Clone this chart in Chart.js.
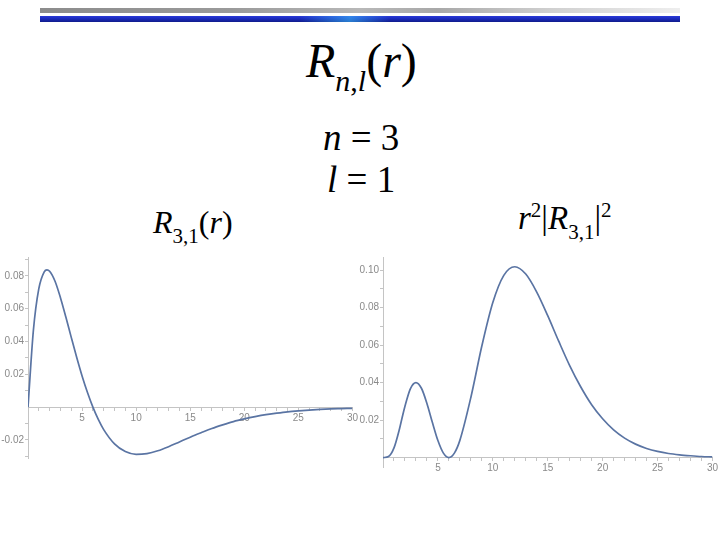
<!DOCTYPE html>
<html>
<head>
<meta charset="utf-8">
<script src="https://cdn.jsdelivr.net/npm/chart.js@4"></script>
<style>
  body { margin: 0; background: #fff; }
  #page { position: relative; width: 720px; height: 540px; overflow: hidden; background: #fff; }
  .bar-gray { position: absolute; left: 40px; top: 8px; width: 640px; height: 5px;
    background: linear-gradient(to right, #8c8c8c 0%, #9a9a9a 30%, #b8b8b8 50%, #a8a8a8 62%, #d0d0d0 80%, #eeeeee 100%); }
  .bar-blue { position: absolute; left: 40px; top: 16px; width: 640px; height: 6px;
    background: linear-gradient(to bottom, #2a3ad8 0%, #1c2cc0 40%, #101c8c 100%); }
  .bar-glint { position: absolute; left: 300px; top: 16px; width: 90px; height: 6px;
    background: linear-gradient(to right, rgba(60,200,255,0) 0%, rgba(60,200,255,0.55) 55%, rgba(60,200,255,0) 100%); }
  .math { position: absolute; font-family: "Liberation Serif", "DejaVu Serif", serif; color: #000; line-height: 1; white-space: nowrap; }
  .math i { font-style: italic; }
  .sub { position: relative; }
  canvas { position: absolute; }
</style>
</head>
<body>
<div id="page">
  <div class="bar-gray"></div>
  <div class="bar-blue"></div>
  <div class="bar-glint"></div>

  <div class="math" style="left:306px; top:37px; font-size:48px;"><i>R</i><span class="sub" style="font-size:30px; top:14px;"><i>n</i>,<i>l</i></span>(<i>r</i>)</div>

  <div class="math" style="left:323px; top:119px; font-size:37px;"><i>n</i> = 3</div>
  <div class="math" style="left:327px; top:161px; font-size:37px;"><i>l</i> = 1</div>

  <div class="math" style="left:153px; top:206px; font-size:32px;"><i>R</i><span class="sub" style="font-size:21px; top:10px;">3,1</span>(<i>r</i>)</div>

  <div class="math" style="left:518px; top:202px; font-size:33px;"><i>r</i><span class="sub" style="font-size:21px; top:-12px;">2</span>|<i>R</i><span class="sub" style="font-size:21px; top:10px;">3,1</span>|<span class="sub" style="font-size:21px; top:-12px;">2</span></div>

  <canvas id="leftChart" width="360" height="220" style="left:0px; top:250px;"></canvas>
  <canvas id="rightChart" width="365" height="225" style="left:355px; top:250px;"></canvas>
</div>

<script>
// radius values (Bohr radii) read along the x axis
const rVals = [0, 0.5, 1, 1.5, 1.75, 2, 2.5, 3, 3.5, 4, 4.5, 5, 5.5, 6, 6.5,
  7, 8, 9, 10, 11, 12, 13, 14, 15, 16, 17, 18, 19, 20, 21, 22, 23, 24, 25, 26, 27, 28, 29, 30];

// R_{3,1}(r), left plot
const radialVals = [0, 0.0469, 0.0722, 0.0825, 0.0837, 0.0828, 0.0767, 0.0667, 0.0549, 0.0425, 0.0304, 0.0190, 0.0089, 0, -0.0075,
  -0.0137, -0.0224, -0.0271, -0.0288, -0.0283, -0.0266, -0.0241, -0.0212, -0.0183, -0.0156, -0.0130, -0.0108, -0.0088,
  -0.0072, -0.0058, -0.0046, -0.0037, -0.0029, -0.0023, -0.0018, -0.0014, -0.0011, -0.0009, -0.0007];

// r^2 |R_{3,1}|^2, right plot
const densityVals = [0, 0.0006, 0.0052, 0.0153, 0.0215, 0.0274, 0.0368, 0.0400, 0.0370, 0.0289, 0.0187, 0.0091, 0.0024, 0, 0.0024,
  0.0092, 0.0321, 0.0595, 0.0827, 0.0972, 0.1018, 0.0979, 0.0883, 0.0757, 0.0621, 0.0491, 0.0378, 0.0282,
  0.0207, 0.0148, 0.0104, 0.0072, 0.0049, 0.0033, 0.0022, 0.0015, 0.0010, 0.0006, 0.0004];

// tick positions
const xMajor = [5, 10, 15, 20, 25, 30];
const xMinor = [1, 2, 3, 4, 6, 7, 8, 9, 11, 12, 13, 14, 16, 17, 18, 19, 21, 22, 23, 24, 26, 27, 28, 29];
const leftYMajor = [-0.02, 0.02, 0.04, 0.06, 0.08];
const leftYMinor = [-0.03, -0.01, 0.01, 0.03, 0.05, 0.07, 0.09];
const rightYMajor = [0.02, 0.04, 0.06, 0.08, 0.10];
const rightYMinor = [0.01, 0.03, 0.05, 0.07, 0.09];

const lineColor = '#5a74a3';
const axisColor = '#c4c4c4';
const tickFont = { family: 'Liberation Sans', size: 10 };
const tickColor = '#8a8a8a';

function setTicks(major, minor) {
    return (axis) => {
        axis.ticks = major.concat(minor).sort((a, b) => a - b).map(v => ({ value: v }));
    };
}

function makeChart(id, yVals, yRange, yMajor, yMinor, pad) {
    const ctx = document.getElementById(id).getContext('2d');
    return new Chart(ctx, {
        type: 'line',
        data: {
            datasets: [{
                data: rVals.map((r, i) => ({ x: r, y: yVals[i] })),
                borderColor: lineColor,
                borderWidth: 1.7,
                pointRadius: 0,
                fill: false,
                cubicInterpolationMode: 'monotone'
            }]
        },
        options: {
            responsive: false,
            animation: false,
            layout: { padding: pad },
            plugins: { legend: { display: false }, tooltip: { enabled: false } },
            scales: {
                x: {
                    type: 'linear',
                    min: 0, max: 30,
                    position: { y: 0 },
                    afterBuildTicks: setTicks(xMajor, xMinor),
                    border: { color: axisColor, width: 1 },
                    grid: { drawOnChartArea: false, color: axisColor, tickLength: 3 },
                    ticks: {
                        autoSkip: false, maxRotation: 0, padding: 2,
                        color: tickColor, font: tickFont,
                        callback: (v) => xMajor.includes(v) ? String(v) : ''
                    }
                },
                y: {
                    type: 'linear',
                    min: yRange[0], max: yRange[1],
                    position: 'left',
                    afterBuildTicks: setTicks(yMajor, yMinor),
                    afterFit: (s) => { s.width = 28; },
                    border: { color: axisColor, width: 1 },
                    grid: { drawOnChartArea: false, color: axisColor, tickLength: 3 },
                    ticks: {
                        autoSkip: false, padding: 1,
                        color: tickColor, font: tickFont,
                        callback: (v) => yMajor.includes(v) ? v.toFixed(2) : ''
                    }
                }
            }
        }
    });
}

makeChart('leftChart', radialVals, [-0.031, 0.0915], leftYMajor, leftYMinor, { left: 0, right: 7, top: 6, bottom: 12 });
makeChart('rightChart', densityVals, [-0.005, 0.107], rightYMajor, rightYMinor, { left: 0, right: 3, top: 6, bottom: 8 });
</script>
</body>
</html>
